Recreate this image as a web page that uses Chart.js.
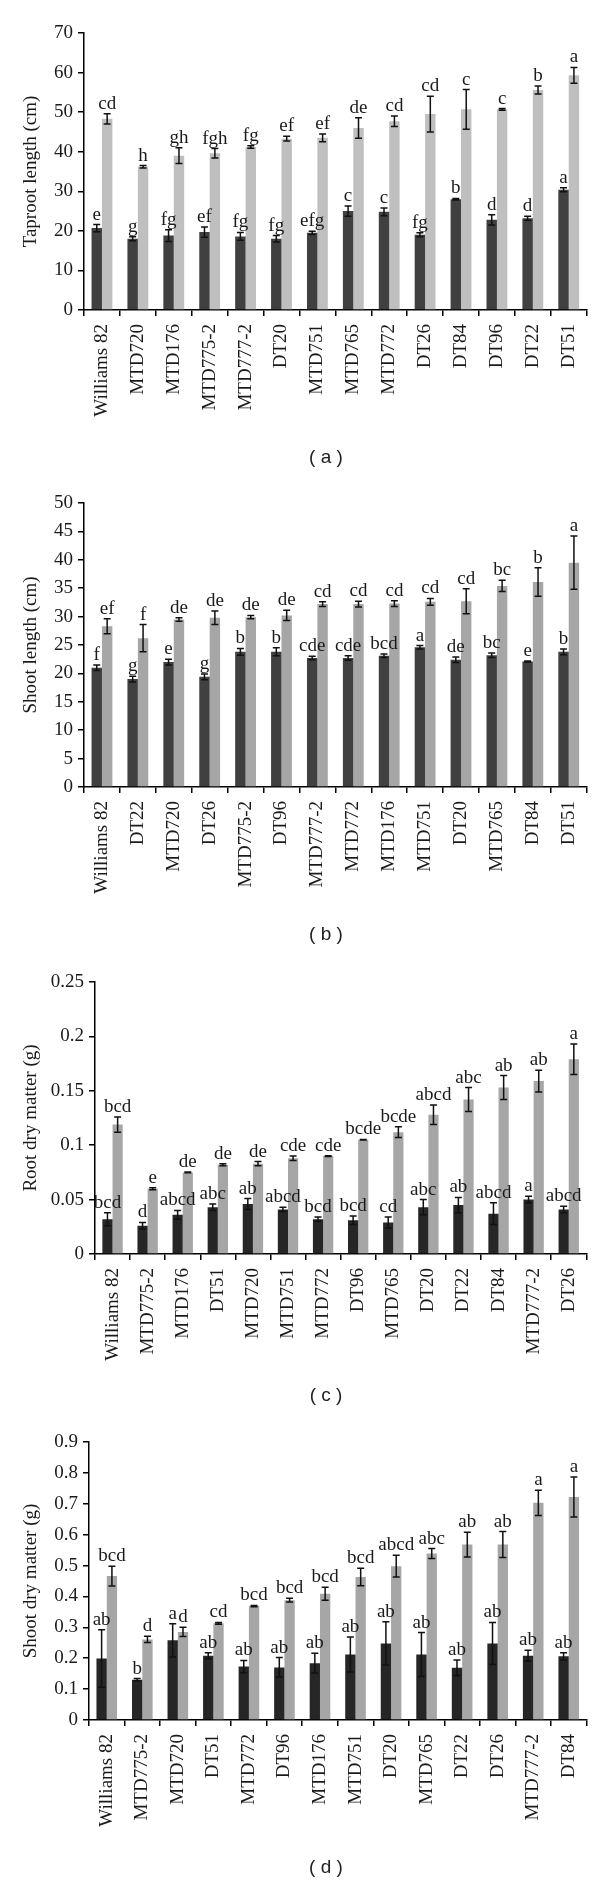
<!DOCTYPE html>
<html>
<head>
<meta charset="utf-8">
<script src="https://cdn.jsdelivr.net/npm/chart.js@4.4.0/dist/chart.umd.min.js"></script>
<style>
  html, body { margin: 0; padding: 0; background: #fff; }
  #page { position: relative; width: 600px; height: 1883px; overflow: hidden; }
  .panel { position: absolute; left: 0; }
  .caption { position: absolute; left: 276px; width: 100px; text-align: center;
             font: 19px 'Liberation Sans', Arial, sans-serif; color: #222; line-height: 22px; }
</style>
</head>
<body>
<div id="page">
  <canvas id="chartA" class="panel"></canvas>
  <canvas id="chartB" class="panel"></canvas>
  <canvas id="chartC" class="panel"></canvas>
  <canvas id="chartD" class="panel"></canvas>
  <div class="caption" id="capA">( a )</div>
  <div class="caption" id="capB">( b )</div>
  <div class="caption" id="capC">( c )</div>
  <div class="caption" id="capD">( d )</div>
</div>
<script>
/* ========== Data ========== */
// (a) taproot length
const catsA = ['Williams 82', 'MTD720', 'MTD176', 'MTD775-2', 'MTD777-2', 'DT20', 'MTD751',
               'MTD765', 'MTD772', 'DT26', 'DT84', 'DT96', 'DT22', 'DT51'];
const darkA     = [20.7, 18.0, 18.8, 19.7, 18.6, 18.0, 19.5, 25.0, 24.8, 19.0, 28.0, 22.8, 23.2, 30.4];
const darkErrA  = [0.9, 0.5, 1.5, 1.3, 1.0, 0.8, 0.4, 1.3, 1.0, 0.5, 0.2, 1.3, 0.5, 0.5];
const lightA    = [48.3, 36.2, 39.0, 39.6, 41.2, 43.3, 43.5, 46.0, 47.7, 49.5, 50.7, 50.7, 55.6, 59.3];
const lightErrA = [1.3, 0.3, 2.0, 1.2, 0.3, 0.6, 1.0, 2.6, 1.3, 4.5, 5.0, 0.2, 1.0, 2.0];
const darkLetA  = ['e', 'g', 'fg', 'ef', 'fg', 'fg', 'efg', 'c', 'c', 'fg', 'b', 'd', 'd', 'a'];
const lightLetA = ['cd', 'h', 'gh', 'fgh', 'fg', 'ef', 'ef', 'de', 'cd', 'cd', 'c', 'c', 'b', 'a'];
const yTicksA   = [0, 10, 20, 30, 40, 50, 60, 70];
const yLabelsA  = ['0', '10', '20', '30', '40', '50', '60', '70'];

// (b) shoot length
const catsB = ['Williams 82', 'DT22', 'MTD720', 'DT26', 'MTD775-2', 'DT96', 'MTD777-2',
               'MTD772', 'MTD176', 'MTD751', 'DT20', 'MTD765', 'DT84', 'DT51'];
const darkB     = [21.0, 19.0, 22.0, 19.4, 23.8, 23.8, 22.7, 22.7, 23.1, 24.6, 22.4, 23.2, 22.1, 23.8];
const darkErrB  = [0.5, 0.5, 0.5, 0.5, 0.6, 0.7, 0.3, 0.4, 0.3, 0.3, 0.5, 0.4, 0.1, 0.5];
const lightB    = [28.3, 26.2, 29.5, 29.8, 29.9, 30.2, 32.2, 32.2, 32.3, 32.6, 32.7, 35.4, 36.1, 39.5];
const lightErrB = [1.3, 2.4, 0.3, 1.2, 0.3, 0.9, 0.4, 0.5, 0.5, 0.6, 2.2, 1.0, 2.5, 4.7];
const darkLetB  = ['f', 'g', 'e', 'g', 'b', 'b', 'cde', 'cde', 'bcd', 'a', 'de', 'bc', 'e', 'b'];
const lightLetB = ['ef', 'f', 'de', 'de', 'de', 'de', 'cd', 'cd', 'cd', 'cd', 'cd', 'bc', 'b', 'a'];
const yTicksB   = [0, 5, 10, 15, 20, 25, 30, 35, 40, 45, 50];
const yLabelsB  = ['0', '5', '10', '15', '20', '25', '30', '35', '40', '45', '50'];

// (c) root dry matter
const catsC = ['Williams 82', 'MTD775-2', 'MTD176', 'DT51', 'MTD720', 'MTD751', 'MTD772',
               'DT96', 'MTD765', 'DT20', 'DT22', 'DT84', 'MTD777-2', 'DT26'];
const darkC     = [0.032, 0.026, 0.036, 0.043, 0.046, 0.041, 0.032, 0.031, 0.029, 0.043, 0.045, 0.037, 0.050, 0.041];
const darkErrC  = [0.006, 0.003, 0.004, 0.003, 0.005, 0.002, 0.002, 0.004, 0.005, 0.007, 0.007, 0.010, 0.003, 0.003];
const lightC    = [0.119, 0.060, 0.075, 0.082, 0.083, 0.088, 0.090, 0.105, 0.112, 0.128, 0.142, 0.153, 0.159, 0.179];
const lightErrC = [0.007, 0.001, 0.0003, 0.001, 0.002, 0.002, 0.0003, 0.0003, 0.005, 0.009, 0.011, 0.011, 0.010, 0.014];
const darkLetC  = ['bcd', 'd', 'abcd', 'abc', 'ab', 'abcd', 'bcd', 'bcd', 'cd', 'abc', 'ab', 'abcd', 'a', 'abcd'];
const lightLetC = ['bcd', 'e', 'de', 'de', 'de', 'cde', 'cde', 'bcde', 'bcde', 'abcd', 'abc', 'ab', 'ab', 'a'];
const yTicksC   = [0, 0.05, 0.1, 0.15, 0.2, 0.25];
const yLabelsC  = ['0', '0.05', '0.1', '0.15', '0.2', '0.25'];

// (d) shoot dry matter
const catsD = ['Williams 82', 'MTD775-2', 'MTD720', 'DT51', 'MTD772', 'DT96', 'MTD176',
               'MTD751', 'DT20', 'MTD765', 'DT22', 'DT26', 'MTD777-2', 'DT84'];
const darkD     = [0.199, 0.13, 0.258, 0.208, 0.173, 0.170, 0.184, 0.212, 0.248, 0.212, 0.169, 0.248, 0.208, 0.206];
const darkErrD  = [0.093, 0.004, 0.054, 0.010, 0.020, 0.032, 0.032, 0.057, 0.070, 0.071, 0.025, 0.068, 0.018, 0.012];
const lightD    = [0.466, 0.261, 0.285, 0.313, 0.369, 0.388, 0.409, 0.463, 0.498, 0.539, 0.568, 0.568, 0.703, 0.722];
const lightErrD = [0.032, 0.010, 0.015, 0.003, 0.002, 0.006, 0.021, 0.028, 0.035, 0.016, 0.040, 0.042, 0.041, 0.065];
const darkLetD  = ['ab', 'b', 'a', 'ab', 'ab', 'ab', 'ab', 'ab', 'ab', 'ab', 'ab', 'ab', 'ab', 'ab'];
const lightLetD = ['bcd', 'd', 'd', 'cd', 'bcd', 'bcd', 'bcd', 'bcd', 'abcd', 'abc', 'ab', 'ab', 'a', 'a'];
const yTicksD   = [0, 0.1, 0.2, 0.3, 0.4, 0.5, 0.6, 0.7, 0.8, 0.9];
const yLabelsD  = ['0', '0.1', '0.2', '0.3', '0.4', '0.5', '0.6', '0.7', '0.8', '0.9'];

/* ========== Defaults ========== */
const SERIF = "'Liberation Serif', 'Times New Roman', serif";
Chart.defaults.font.family = SERIF;
Chart.defaults.font.size = 19;
Chart.defaults.color = '#1a1a1a';

/* ========== Error bars + letters ========== */
function errorLetterPlugin(errs, letters) {
  return {
    id: 'errLetters',
    afterDatasetsDraw(chart) {
      const { ctx } = chart;
      const y = chart.scales.y;
      chart.data.datasets.forEach((ds, di) => {
        chart.getDatasetMeta(di).data.forEach((bar, i) => {
          const v = ds.data[i], e = errs[di][i];
          const yTop = y.getPixelForValue(v + e);
          const yBot = y.getPixelForValue(v - e);
          ctx.save();
          ctx.strokeStyle = '#111';
          ctx.lineWidth = 1.5;
          ctx.beginPath();
          ctx.moveTo(bar.x, yTop); ctx.lineTo(bar.x, yBot);
          ctx.moveTo(bar.x - 3.5, yTop); ctx.lineTo(bar.x + 3.5, yTop);
          ctx.moveTo(bar.x - 3.5, yBot); ctx.lineTo(bar.x + 3.5, yBot);
          ctx.stroke();
          ctx.font = '19px ' + SERIF;
          ctx.fillStyle = '#1a1a1a';
          ctx.textAlign = 'center';
          ctx.textBaseline = 'alphabetic';
          ctx.fillText(letters[di][i], bar.x, yTop - 5);
          ctx.restore();
        });
      });
    }
  };
}

/* ========== Panels ========== */
function makePanel(p) {
  const canvas = document.getElementById(p.id);
  const plotH = p.bottom - p.top;
  const h = plotH + 20 + 140;
  canvas.width = 600;
  canvas.height = h;
  canvas.style.top = (p.top - 20) + 'px';
  const cap = document.getElementById(p.cap);
  cap.style.top = (p.capY - 11) + 'px';

  new Chart(canvas, {
    type: 'bar',
    data: {
      labels: p.cats,
      datasets: [
        { data: p.dark, backgroundColor: p.darkColor },
        { data: p.light, backgroundColor: p.lightColor }
      ]
    },
    options: {
      responsive: false,
      animation: false,
      devicePixelRatio: 1,
      layout: { padding: { top: 20, left: 20, right: 13, bottom: 0 } },
      plugins: { legend: { display: false }, tooltip: { enabled: false } },
      datasets: { bar: { categoryPercentage: 0.58, barPercentage: 1 } },
      scales: {
        x: {
          grid: { drawOnChartArea: false, tickLength: 6, color: '#000', lineWidth: 1.5, offset: true },
          border: { color: '#000', width: 1.5 },
          ticks: { minRotation: 90, maxRotation: 90, autoSkip: false, padding: 8 },
          afterFit: s => { s.height = 140; }
        },
        y: {
          min: 0,
          max: p.ticks[p.ticks.length - 1],
          grid: { drawOnChartArea: false, tickLength: 6, color: '#000', lineWidth: 1.5 },
          border: { color: '#000', width: 1.5 },
          ticks: { padding: 5, callback: (v, i) => p.tickLabels[i] },
          afterBuildTicks: s => { s.ticks = p.ticks.map(v => ({ value: v })); },
          title: { display: true, text: p.title, padding: { top: 0, bottom: 0 } },
          afterFit: s => { s.width = p.axisX - 20; }
        }
      }
    },
    plugins: [errorLetterPlugin([p.darkErr, p.lightErr], [p.darkLet, p.lightLet])]
  });
}

makePanel({ id: 'chartA', cap: 'capA', top: 33.3, bottom: 310.7, axisX: 84, capY: 457,
  cats: catsA, dark: darkA, light: lightA, darkErr: darkErrA, lightErr: lightErrA,
  darkLet: darkLetA, lightLet: lightLetA, ticks: yTicksA, tickLabels: yLabelsA,
  title: 'Taproot length (cm)', darkColor: '#404040', lightColor: '#bfbfbf' });

makePanel({ id: 'chartB', cap: 'capB', top: 503.3, bottom: 787.7, axisX: 84, capY: 934,
  cats: catsB, dark: darkB, light: lightB, darkErr: darkErrB, lightErr: lightErrB,
  darkLet: darkLetB, lightLet: lightLetB, ticks: yTicksB, tickLabels: yLabelsB,
  title: 'Shoot length (cm)', darkColor: '#404040', lightColor: '#a6a6a6' });

makePanel({ id: 'chartC', cap: 'capC', top: 981.7, bottom: 1254, axisX: 95, capY: 1395,
  cats: catsC, dark: darkC, light: lightC, darkErr: darkErrC, lightErr: lightErrC,
  darkLet: darkLetC, lightLet: lightLetC, ticks: yTicksC, tickLabels: yLabelsC,
  title: 'Root dry matter (g)', darkColor: '#262626', lightColor: '#a6a6a6' });

makePanel({ id: 'chartD', cap: 'capD', top: 1442.3, bottom: 1721, axisX: 89, capY: 1867,
  cats: catsD, dark: darkD, light: lightD, darkErr: darkErrD, lightErr: lightErrD,
  darkLet: darkLetD, lightLet: lightLetD, ticks: yTicksD, tickLabels: yLabelsD,
  title: 'Shoot dry matter (g)', darkColor: '#262626', lightColor: '#a6a6a6' });
</script>
</body>
</html>
